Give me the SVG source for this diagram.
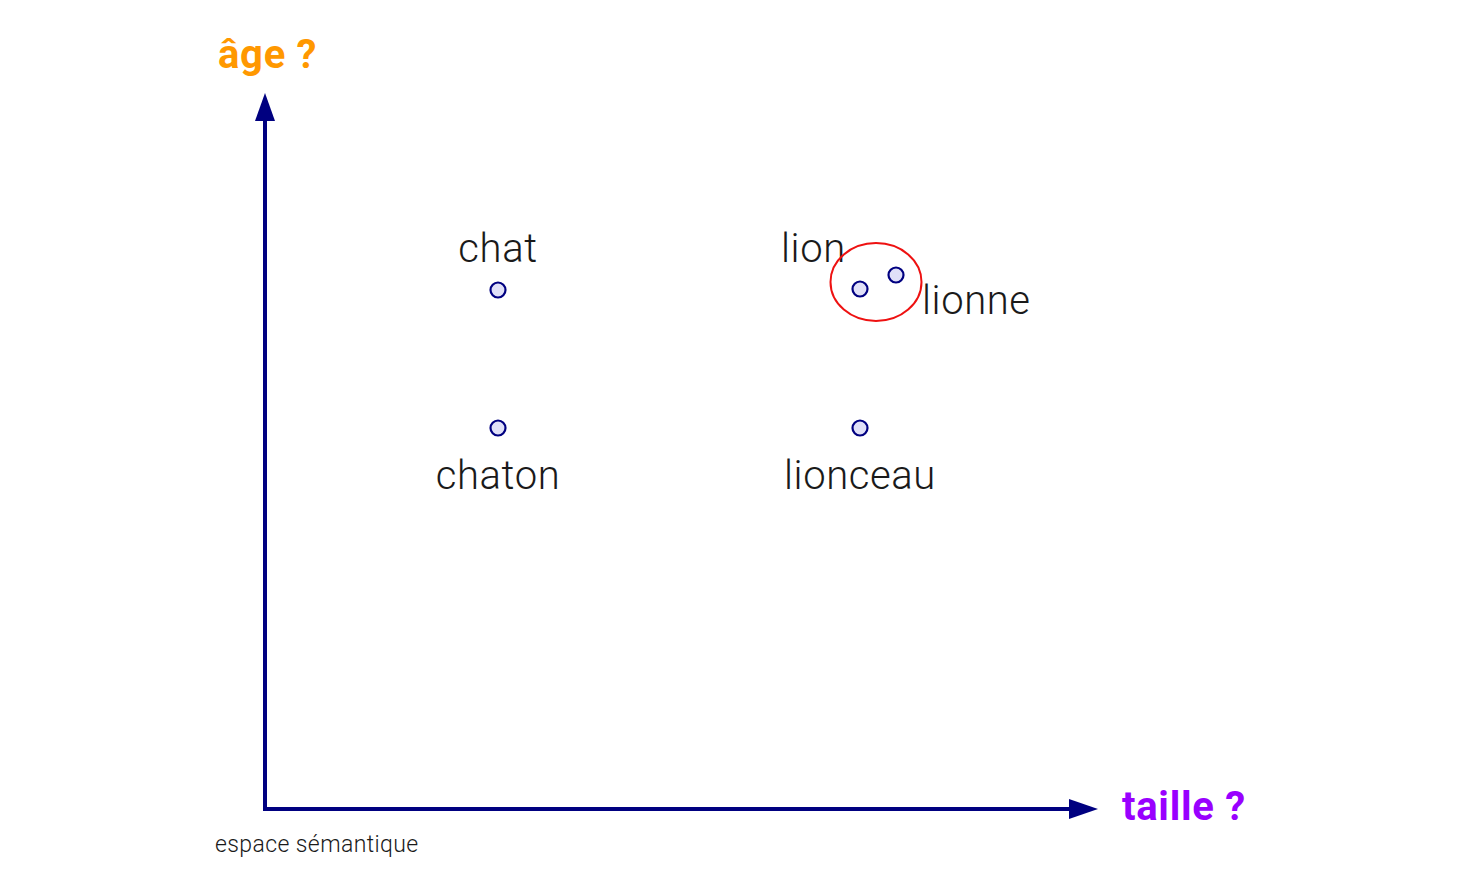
<svg xmlns="http://www.w3.org/2000/svg" width="1468" height="890" viewBox="0 0 1468 890">
<style>
.lbl{font-family:Roboto,"Liberation Sans",sans-serif;font-weight:300;font-size:40px;letter-spacing:0.6px;fill:#1a1a1a}
.pt{fill:#e0e0f8;stroke:#000080;stroke-width:2.2}
.ax{stroke:#000080;stroke-width:4;fill:none}
.axl{font-family:Roboto,"Liberation Sans",sans-serif;font-weight:700;font-size:40px;letter-spacing:0.7px}
</style>
<rect width="1468" height="890" fill="#fff"/>
<g id="connectors">
<line class="ax" x1="265" y1="809" x2="265" y2="118"/>
<polygon points="265,93 255,121 275,121" fill="#000080"/>
<line class="ax" x1="263" y1="809" x2="1072" y2="809"/>
<polygon points="1098,809 1069,799 1069,819" fill="#000080"/>
</g>
<g id="axis-age"><text class="axl" x="218" y="68" fill="#ff9800">âge ?</text></g>
<g id="axis-taille"><text class="axl" x="1122" y="820" fill="#9900ff">taille ?</text></g>
<g id="caption"><text x="215" y="852" font-family="Roboto,'Liberation Sans',sans-serif" font-weight="300" font-size="23" letter-spacing="0.4" fill="#1a1a1a">espace sémantique</text></g>
<g id="chat"><circle class="pt" cx="498" cy="290" r="7.5"/><text class="lbl" x="498" y="262" text-anchor="middle">chat</text></g>
<g id="chaton"><circle class="pt" cx="498" cy="428" r="7.5"/><text class="lbl" x="498" y="489" text-anchor="middle">chaton</text></g>
<g id="lion"><circle class="pt" cx="860" cy="289" r="7.5"/><text class="lbl" x="781" y="262">lion</text></g>
<g id="lionne"><circle class="pt" cx="896" cy="275" r="7.5"/><text class="lbl" x="922" y="314">lionne</text></g>
<g id="lionceau"><circle class="pt" cx="860" cy="428" r="7.5"/><text class="lbl" x="860" y="489" text-anchor="middle">lionceau</text></g>
<g id="cluster"><ellipse cx="876" cy="282" rx="45.5" ry="39" fill="none" stroke="#ee1111" stroke-width="2"/></g>
</svg>
